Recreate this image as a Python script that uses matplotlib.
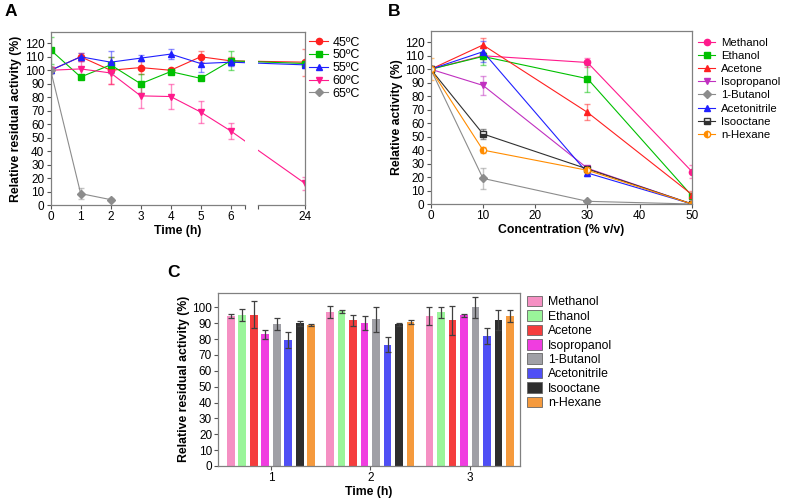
"""
Enzyme stability panels: thermal stability (A), solvent tolerance (B)
and residual activity after solvent incubation (C).
"""
import matplotlib.pyplot as plt
import matplotlib.transforms as mtransforms
from matplotlib.patches import Rectangle
import numpy as np

plt.rcParams['font.family'] = ['Liberation Sans', 'DejaVu Sans']
plt.rcParams['font.size'] = 8.5

# --- Panel A: thermal stability ---
temp_labels = ["45ºC", "50ºC", "55ºC", "60ºC", "65ºC"]
time_a = [0, 1, 2, 3, 4, 5, 6, 24]
act_45 = [100, 110, 100, 102, 100, 110, 107, 106]
err_45 = [0, 3, 10, 5, 1, 4, 3, 10]
act_50 = [115, 95, 104, 90, 99, 94, 107, 105]
err_50 = [10, 1, 6, 7, 1, 1, 7, 2]
act_55 = [100, 110, 106, 109, 112, 105, 106, 104]
err_55 = [0, 3, 8, 2, 4, 6, 3, 2]
act_60 = [100, 101, 98, 81, 80.5, 69, 55, 16]
err_60 = [0, 6, 8, 9, 9, 8, 6, 5]
time_65 = [0, 1, 2]
act_65 = [100, 8.5, 4]
err_65 = [3, 4, 1]

# --- Panel B: solvent concentration ---
solvents = ["Methanol", "Ethanol", "Acetone", "Isopropanol",
            "1-Butanol", "Acetonitrile", "Isooctane", "n-Hexane"]
conc = [0, 10, 30, 50]
act_b = [
    [100, 110, 105, 24],
    [100, 109.5, 93, 6],
    [100, 118, 68, 7],
    [100, 88, 26.5, 0],
    [100, 19, 2, 0],
    [100, 113, 23, 0],
    [100, 52, 26, 0],
    [100, 40, 25, 0],
]
err_b = [
    [0, 2, 3, 5],
    [0, 6, 10, 2],
    [0, 5, 6, 3],
    [0, 7, 2, 0],
    [0, 8, 1, 0],
    [0, 8, 2, 0],
    [0, 4, 2, 0],
    [8, 2, 2, 0],
]

# --- Panel C: residual activity after incubation ---
time_c = [1, 2, 3]
act_c = [
    [94.5, 97, 94.5],
    [95.2, 97.5, 97],
    [95.2, 91.8, 91.8],
    [83, 90, 95],
    [89.5, 92.4, 100],
    [79.6, 76.5, 82],
    [90, 89.3, 92],
    [89, 90.8, 94.5],
]
err_c = [
    [1.5, 4, 5.5],
    [4, 1, 3.5],
    [8.5, 3.5, 9],
    [3, 4.5, 1],
    [3.5, 8, 6.5],
    [5, 4.5, 5],
    [1.5, 1, 6],
    [0.7, 1.5, 3.5],
]

temp_colors = ["#ff2020", "#00c000", "#2020ff", "#ff1a8c", "#8c8c8c"]
temp_markers = ["o", "s", "^", "v", "D"]
line_colors = ["#ff1a8c", "#00c000", "#ff2020", "#c030c0",
               "#8c8c8c", "#2020ff", "#303030", "#ff8c00"]
line_markers = ["o", "s", "^", "v", "D", "^", "s", "o"]
line_fill = ["full", "full", "full", "full", "full", "full", "bottom", "left"]
bar_colors = ["#f590c3", "#9af59a", "#f53d3d", "#f03de0",
              "#a0a0a6", "#4f4ff5", "#2e2e2e", "#f59a3d"]

SPINE = "#808080"
LABEL_KW = dict(fontsize=8.8, fontweight="bold", labelpad=1.5)


def style_axis(ax):
    for sp in ax.spines.values():
        sp.set_color(SPINE)
        sp.set_linewidth(0.9)
    ax.tick_params(length=3, width=0.8, color="#555555", pad=1.5)


def marker_size(mk):
    # ромб визуально крупнее остальных маркеров
    return 3.6 if mk == "D" else 4.5


fig = plt.figure(figsize=(7.87, 5.03), dpi=100)

# 1. Panel A (broken time axis: 24 h drawn right after the gap)
ax_a = fig.add_axes([0.0644, 0.5924, 0.3232, 0.344])
gap_lo, gap_hi, pos_24 = 6.47, 6.9, 8.48


def time_pos(t):
    return [x if x <= 6 else pos_24 for x in t]


series_a = [(time_a, act_45, err_45), (time_a, act_50, err_50),
            (time_a, act_55, err_55), (time_a, act_60, err_60),
            (time_65, act_65, err_65)]
for (t, y, e), lab, col, mk in zip(series_a, temp_labels, temp_colors, temp_markers):
    ax_a.errorbar(time_pos(t), y, yerr=e, fmt="none", ecolor=col, alpha=0.5,
                  elinewidth=1.0, capsize=2.2, capthick=1.0, zorder=2)
    ax_a.plot(time_pos(t), y, color=col, lw=0.8, marker=mk, ms=marker_size(mk),
              label=lab, zorder=2.1)

# white band hides data in the axis break
blend = mtransforms.blended_transform_factory(ax_a.transData, ax_a.transAxes)
ax_a.add_patch(Rectangle((gap_lo, 0), gap_hi - gap_lo, 1, facecolor="white",
                         edgecolor="none", zorder=2.3, transform=blend))
style_axis(ax_a)
ax_a.spines["bottom"].set_visible(False)
for x0, x1 in [(0, gap_lo), (gap_hi, pos_24)]:
    ax_a.plot([x0, x1], [0, 0], color=SPINE, lw=0.9, transform=blend,
              clip_on=False, zorder=3)

ax_a.set_xlim(0, pos_24)
ax_a.set_ylim(0, 128.4)
ax_a.set_xticks([0, 1, 2, 3, 4, 5, 6, gap_lo, gap_hi, pos_24])
ax_a.set_xticklabels(["0", "1", "2", "3", "4", "5", "6", "", "", "24"])
ax_a.set_yticks(np.arange(0, 121, 10))
ax_a.set_xlabel("Time (h)", **LABEL_KW)
ax_a.set_ylabel("Relative residual activity (%)", **LABEL_KW)
ax_a.legend(loc="upper left", bbox_to_anchor=(0.393, 0.927),
            bbox_transform=fig.transFigure, frameon=False, fontsize=9,
            handlelength=1.5, handletextpad=0.35, labelspacing=0.06,
            borderpad=0, borderaxespad=0)

# 2. Panel B
ax_b = fig.add_axes([0.5473, 0.5944, 0.332, 0.3446])
for i, lab in enumerate(solvents):
    ax_b.errorbar(conc, act_b[i], yerr=err_b[i], fmt="none",
                  ecolor=line_colors[i], alpha=0.5, elinewidth=1.0,
                  capsize=2.2, capthick=1.0, zorder=2)
    ax_b.plot(conc, act_b[i], color=line_colors[i], lw=0.8,
              marker=line_markers[i], ms=marker_size(line_markers[i]),
              fillstyle=line_fill[i], markerfacecoloralt="white",
              label=lab, zorder=2.1)
style_axis(ax_b)
ax_b.set_xlim(0, 50)
ax_b.set_ylim(0, 128.6)
ax_b.set_xticks([0, 10, 20, 30, 40, 50])
ax_b.set_yticks(np.arange(0, 121, 10))
ax_b.set_xlabel("Concentration (% v/v)", **LABEL_KW)
ax_b.set_ylabel("Relative activity (%)", **LABEL_KW)
ax_b.legend(loc="upper left", bbox_to_anchor=(0.887, 0.925),
            bbox_transform=fig.transFigure, frameon=False, fontsize=8.2,
            handlelength=1.5, handletextpad=0.5, labelspacing=0.28,
            borderpad=0, borderaxespad=0)

# 3. Panel C
ax_c = fig.add_axes([0.2774, 0.0736, 0.3833, 0.3445])
slot, width = 0.1158, 0.077
for i, lab in enumerate(solvents):
    xs = np.array(time_c) + (i - 3.5) * slot
    ax_c.bar(xs, act_c[i], width=width, color=bar_colors[i],
             edgecolor="none", label=lab, zorder=2)
    ax_c.errorbar(xs, act_c[i], yerr=err_c[i], fmt="none", ecolor="#404040",
                  elinewidth=0.9, capsize=2.2, capthick=0.9, zorder=3)
style_axis(ax_c)
ax_c.set_xlim(0.47, 3.507)
ax_c.set_ylim(0, 109.2)
ax_c.set_xticks(time_c)
ax_c.set_yticks(np.arange(0, 101, 10))
ax_c.set_xlabel("Time (h)", **LABEL_KW)
ax_c.set_ylabel("Relative residual activity (%)", **LABEL_KW)
leg_c = ax_c.legend(loc="upper left", bbox_to_anchor=(0.67, 0.412),
                    bbox_transform=fig.transFigure, frameon=False,
                    fontsize=8.8, handlelength=1.2, handleheight=0.95,
                    handletextpad=0.5, labelspacing=0.16,
                    borderpad=0, borderaxespad=0)
for h in leg_c.legend_handles:
    h.set_edgecolor("#666666")
    h.set_linewidth(0.6)

# 4. Panel letters
for x, y, s in [(0.006, 0.968, "A"), (0.493, 0.968, "B"), (0.212, 0.449, "C")]:
    fig.text(x, y, s, fontsize=12.5, fontweight="bold", ha="left", va="baseline")

fig.savefig("out.png", dpi=100)
